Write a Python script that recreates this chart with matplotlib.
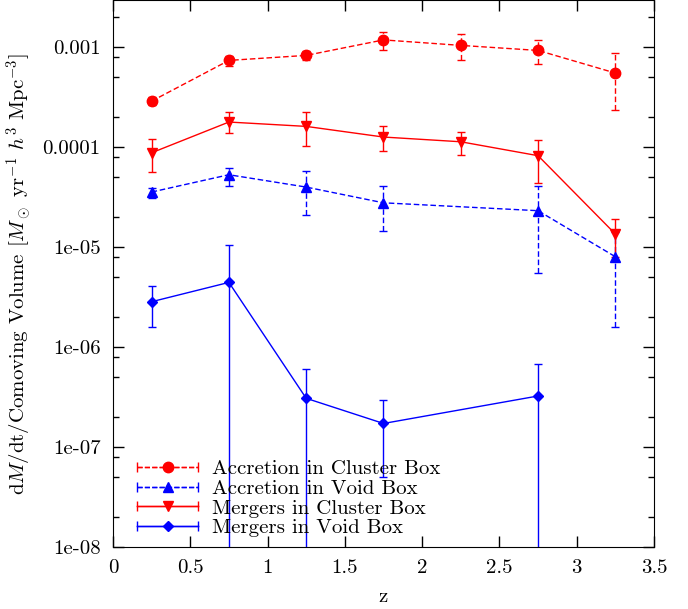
import numpy as np
import matplotlib
matplotlib.use("Agg")
import matplotlib.pyplot as plt
from matplotlib.lines import Line2D
from matplotlib.legend_handler import HandlerLine2D, HandlerTuple
from matplotlib.ticker import LogLocator, FixedLocator, NullFormatter

plt.rcParams['font.family'] = 'serif'
plt.rcParams['font.serif'] = ['cmr10']
plt.rcParams['mathtext.fontset'] = 'cm'
plt.rcParams['axes.unicode_minus'] = False
plt.rcParams['axes.formatter.use_mathtext'] = True

# redshift bins
z_all = [0.25, 0.75, 1.25, 1.75, 2.25, 2.75, 3.25]

acc_cl = [2.88e-4, 7.36e-4, 8.26e-4, 1.18e-3, 1.04e-3, 9.26e-4, 5.5e-4]
acc_cl_hi = [3.16e-4, 8.1e-4, 9.2e-4, 1.43e-3, 1.34e-3, 1.17e-3, 8.7e-4]
acc_cl_lo = [2.63e-4, 6.5e-4, 7.5e-4, 9.3e-4, 7.5e-4, 6.8e-4, 2.34e-4]

mer_cl = [8.77e-5, 1.78e-4, 1.61e-4, 1.26e-4, 1.13e-4, 8.2e-5, 1.35e-5]
mer_cl_hi = [1.2e-4, 2.24e-4, 2.23e-4, 1.64e-4, 1.42e-4, 1.19e-4, 1.89e-5]
mer_cl_lo = [5.66e-5, 1.37e-4, 1.02e-4, 9.1e-5, 8.3e-5, 4.4e-5, 7.9e-6]

z_acc_void = [0.25, 0.75, 1.25, 1.75, 2.75, 3.25]
acc_void = [3.55e-5, 5.29e-5, 3.98e-5, 2.77e-5, 2.31e-5, 8.0e-6]
acc_void_hi = [3.86e-5, 6.2e-5, 5.8e-5, 4.07e-5, 4.07e-5, 1.43e-5]
acc_void_lo = [3.07e-5, 4.07e-5, 2.1e-5, 1.45e-5, 5.5e-6, 1.6e-6]

z_mer_void = [0.25, 0.75, 1.25, 1.75, 2.75]
mer_void = [2.84e-6, 4.43e-6, 3.07e-7, 1.72e-7, 3.24e-7]
mer_void_hi = [4.07e-6, 1.06e-5, 5.98e-7, 2.97e-7, 6.7e-7]
mer_void_lo = [1.6e-6, 1e-10, 1e-10, 5.0e-8, 1e-10]

labels = ['Accretion in Cluster Box', 'Accretion in Void Box',
          'Mergers in Cluster Box', 'Mergers in Void Box']

fig = plt.figure(figsize=(6.88, 6.09), dpi=100)
ax = fig.add_axes([0.1642, 0.1018, 0.7864, 0.898])

series = [
    (z_all, acc_cl, acc_cl_lo, acc_cl_hi, 'red', 'o', '--', 7.5),
    (z_acc_void, acc_void, acc_void_lo, acc_void_hi, 'blue', '^', '--', 7.5),
    (z_all, mer_cl, mer_cl_lo, mer_cl_hi, 'red', 'v', '-', 7.5),
    (z_mer_void, mer_void, mer_void_lo, mer_void_hi, 'blue', 'D', '-', 5.5),
]

handles = []
hmap = {}
for x, y, lo, hi, c, m, ls, ms in series:
    y = np.array(y)
    yerr = [y - np.array(lo), np.array(hi) - y]
    eb = ax.errorbar(x, y, yerr=yerr, color=c, marker=m, ms=ms, ls=ls,
                     lw=1.0, elinewidth=1.0, capsize=3, capthick=1.0,
                     dashes=(4, 2) if ls == '--' else (None, None))
    if ls == '--':
        eb[2][0].set_linestyle((0, (4, 2)))
    caps = Line2D([], [], color=c, ls=ls, lw=1.0, marker='|', ms=7, mew=1.0)
    main = Line2D([], [], color=c, ls=ls, lw=1.0, marker=m, ms=ms)
    hmap[caps] = HandlerLine2D(numpoints=2, marker_pad=0.0)
    hmap[main] = HandlerLine2D(numpoints=1)
    handles.append((caps, main))

for h in handles:
    hmap[h] = HandlerTuple(ndivide=1)

ax.set_yscale('log')
ax.set_xlim(0, 3.5)
ax.set_ylim(1e-8, 2.95e-3)

ax.set_xticks(np.arange(0, 3.51, 0.5))
ax.set_xticklabels(['0', '0.5', '1', '1.5', '2', '2.5', '3', '3.5'])
yt = [1e-8, 1e-7, 1e-6, 1e-5, 1e-4, 1e-3]
ax.yaxis.set_major_locator(FixedLocator(yt))
ax.set_yticklabels(['1e-08', '1e-07', '1e-06', '1e-05', '0.0001', '0.001'])
ax.yaxis.set_minor_locator(LogLocator(base=10, subs=[2, 5, 8]))
ax.yaxis.set_minor_formatter(NullFormatter())

ax.tick_params(which='both', direction='in', top=True, right=True,
               labelsize=15)
ax.tick_params(which='major', length=8, width=1)
ax.tick_params(which='minor', length=4, width=1)
ax.tick_params(axis='x', pad=9)
ax.tick_params(axis='y', pad=9)

ax.set_xlabel('z', fontsize=15, labelpad=8)
ax.set_ylabel(r'd$M$/dt/Comoving Volume [$M_\odot$ yr$^{-1}$ $h^3$ Mpc$^{-3}$]',
              fontsize=15, labelpad=6)

ax.legend(handles, labels, handler_map=hmap, loc='lower left',
          bbox_to_anchor=(0.022, -0.005), frameon=False, fontsize=15,
          handlelength=2.9, handletextpad=0.7, labelspacing=0.05,
          borderaxespad=0.2)

fig.savefig('out.png', dpi=100)
